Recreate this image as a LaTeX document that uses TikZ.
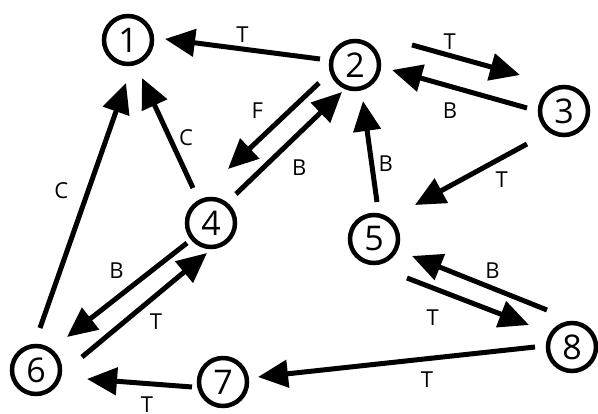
\documentclass[tikz,border=0pt]{standalone}
\usepackage{fontspec}
\setmainfont{Open Sans}
\usetikzlibrary{arrows.meta, positioning, calc}

\begin{document}
\begin{tikzpicture}[x=1pt, y=-1pt,
  state/.style={circle, draw, line width=4.5pt, minimum size=48pt, inner sep=0pt, font=\fontsize{34}{34}\selectfont},
  lbl/.style={inner sep=0pt, font=\fontsize{22}{22}\selectfont},
  arr/.style={-{Triangle[length=30pt, width=27pt]}, line width=5pt}
]
\useasboundingbox (0,0) rectangle (598,414);
\node[state] (n1) at (128,40) {1};
\node[state] (n2) at (355,65) {2};
\node[state] (n3) at (564,111) {3};
\node[state] (n4) at (211,223) {4};
\node[state] (n5) at (374,239) {5};
\node[state] (n6) at (36,370) {6};
\node[state] (n7) at (223,382) {7};
\node[state] (n8) at (572,347) {8};

% top row
\draw[arr] ($(n2)+(-35,-6)$) -- node[lbl, above=4pt] {T} ($(n1)+(37,-1)$);
\draw[arr] ($(n2)+(57,-20)$) -- node[lbl, pos=0.35, above=3pt] {T} ($(n3)+(-44,-36)$);
\draw[arr] ($(n3)+(-37,-3)$) -- node[lbl, pos=0.57, below=13.5pt] {B} ($(n2)+(37,5)$);
\draw[arr] ($(n3)+(-37,33)$) -- node[lbl, pos=0.32, below right={6pt and 2pt}] {T} ($(n5)+(41,-34)$);

% middle
\draw[arr] ($(n2)+(-36,18)$) -- node[lbl, pos=0.51, above left={6pt and 7pt}] {F} ($(n4)+(17,-54)$);
\draw[arr] ($(n4)+(25,-29)$) -- node[lbl, pos=0.43, below right={7.5pt and 8pt}] {B} ($(n2)+(-13,27)$);
\draw[arr] ($(n5)+(3,-37)$) -- node[lbl, pos=0.38, right=4.5pt] {B} ($(n2)+(8,36)$);
\draw[arr] ($(n4)+(-18,-35)$) -- node[lbl, pos=0.46, right=7pt] {C} ($(n1)+(14,38)$);
\draw[arr] ($(n6)+(4,-42)$) -- node[lbl, pos=0.56, left=17.5pt] {C} ($(n1)+(-2,43)$);

% bottom
\draw[arr] ($(n4)+(-24,20)$) -- node[lbl, pos=0.47, above left={6.5pt and 4.5pt}] {B} ($(n6)+(31,-33)$);
\draw[arr] ($(n6)+(46,-13)$) -- node[lbl, pos=0.49, below right={5.5pt and 4pt}] {T} ($(n4)+(-4,30)$);
\draw[arr] ($(n7)+(-31,5)$) -- node[lbl, pos=0.43, below=10.5pt] {T} ($(n6)+(51,9)$);
\draw[arr] ($(n8)+(-37,0)$) -- node[lbl, pos=0.39, below=10.5pt] {T} ($(n7)+(35,-5)$);
\draw[arr] ($(n5)+(33,39)$) -- node[lbl, pos=0.30, below left={15pt and 2.3pt}] {T} ($(n8)+(-43,-22)$);
\draw[arr] ($(n8)+(-25,-37)$) -- node[lbl, pos=0.44, above=5.5pt, xshift=5pt] {B} ($(n5)+(38,17)$);
\end{tikzpicture}
\end{document}
